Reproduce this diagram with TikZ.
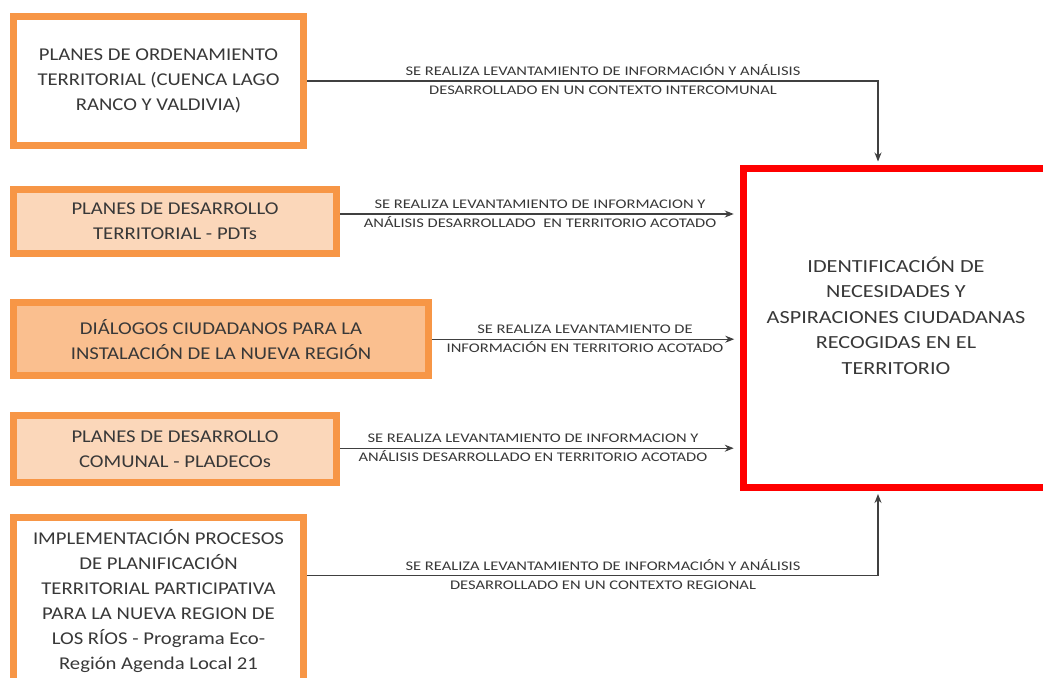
\documentclass[tikz,border=0pt]{standalone}
\usepackage{fontspec}
\setmainfont{Carlito}
\newfontfamily\boxfont[FakeStretch=1.15]{Carlito}
\newfontfamily\redfont[FakeStretch=1.2]{Carlito}
\newfontfamily\lblfont[FakeStretch=1.25]{Carlito}
\usetikzlibrary{arrows.meta,calc}
\definecolor{orng}{HTML}{F79646}
\definecolor{peachL}{HTML}{FBD7BA}
\definecolor{peachD}{HTML}{FABF8F}
\definecolor{txtgray}{HTML}{383838}
\definecolor{redb}{HTML}{FF0000}
\tikzset{
  srcbox/.style={draw=orng, line width=7pt, inner sep=0pt, align=center,
    text=txtgray, font=\boxfont\fontsize{18}{25}\selectfont},
  tgtbox/.style={draw=redb, line width=7pt, inner sep=0pt, fill=white},
  tgttext/.style={align=center, text=txtgray, font=\redfont\fontsize{18.5}{25.5}\selectfont},
  lbl/.style={align=center, text=txtgray, font=\lblfont\fontsize{13.2}{19}\selectfont, inner sep=0pt},
  arr/.style={draw=black!75, line width=1.2pt, -{Stealth[length=9pt,width=7pt]}}
}
\begin{document}
\begin{tikzpicture}[x=1pt,y=-1pt]
\useasboundingbox (0,0) rectangle (1043,677);
\clip (0,0) rectangle (1043,677);
\fill[white] (0,0) rectangle (1043,677);

\node[srcbox, fill=white, minimum width=290pt, minimum height=129pt] (b1) at (158.5,81)
  {PLANES DE ORDENAMIENTO\\TERRITORIAL (CUENCA LAGO\\RANCO Y VALDIVIA)};
\node[srcbox, fill=peachL, minimum width=323pt, minimum height=63.7pt] (b2) at (175,221.3)
  {PLANES DE DESARROLLO\\TERRITORIAL - PDTs};
\node[srcbox, fill=peachD, minimum width=415pt, minimum height=73.3pt] (b3) at (221,339.2)
  {DIÁLOGOS CIUDADANOS PARA LA\\INSTALACIÓN DE LA NUEVA REGIÓN};
\node[srcbox, fill=peachL, minimum width=323pt, minimum height=66.7pt] (b4) at (175,449.2)
  {PLANES DE DESARROLLO\\COMUNAL - PLADECOs};
\node[srcbox, fill=white, minimum width=290pt, minimum height=167pt] (b5) at (158.5,600.75)
  {IMPLEMENTACIÓN PROCESOS\\DE PLANIFICACIÓN\\TERRITORIAL PARTICIPATIVA\\PARA LA NUEVA REGION DE\\LOS RÍOS - Programa Eco-\\Región Agenda Local 21};

\node[tgtbox, minimum width=305.5pt, minimum height=318.5pt] (red) at (896,327.75) {};
\node[tgttext] (redtxt) at ([yshift=12pt]red.center)
  {IDENTIFICACIÓN DE\\NECESIDADES Y\\ASPIRACIONES CIUDADANAS\\RECOGIDAS EN EL\\TERRITORIO};

% connectors
\draw[arr, shorten >=3.5pt] (b1.east) -| ([xshift=-18pt]red.north);
\draw[arr, shorten >=6pt] ([yshift=7.3pt]b2.east) coordinate (s2) -- (s2 -| red.west);
\draw[arr, shorten >=5.5pt] (b3.east) -- (b3.east -| red.west);
\draw[arr, shorten >=6pt] ([yshift=1pt]b4.east) coordinate (s4) -- (s4 -| red.west);
\draw[arr, shorten >=3.5pt] ([yshift=25.3pt]b5.east) coordinate (s5) -| ([xshift=-18pt]red.south);

% labels
\node[lbl] (l1) at (603,79.5) {SE REALIZA LEVANTAMIENTO DE INFORMACIÓN Y ANÁLISIS\\DESARROLLADO EN UN CONTEXTO INTERCOMUNAL};
\node[lbl] (l2) at (540,213.5) {SE REALIZA LEVANTAMIENTO DE INFORMACION Y\\ANÁLISIS DESARROLLADO~ EN TERRITORIO ACOTADO};
\node[lbl] (l3) at (585,339) {SE REALIZA LEVANTAMIENTO DE\\INFORMACIÓN EN TERRITORIO ACOTADO};
\node[lbl] (l4) at (533,447.5) {SE REALIZA LEVANTAMIENTO DE INFORMACION Y\\ANÁLISIS DESARROLLADO EN TERRITORIO ACOTADO};
\node[lbl] (l5) at (603,574.5) {SE REALIZA LEVANTAMIENTO DE INFORMACIÓN Y ANÁLISIS\\DESARROLLADO EN UN CONTEXTO REGIONAL};
\end{tikzpicture}
\end{document}
